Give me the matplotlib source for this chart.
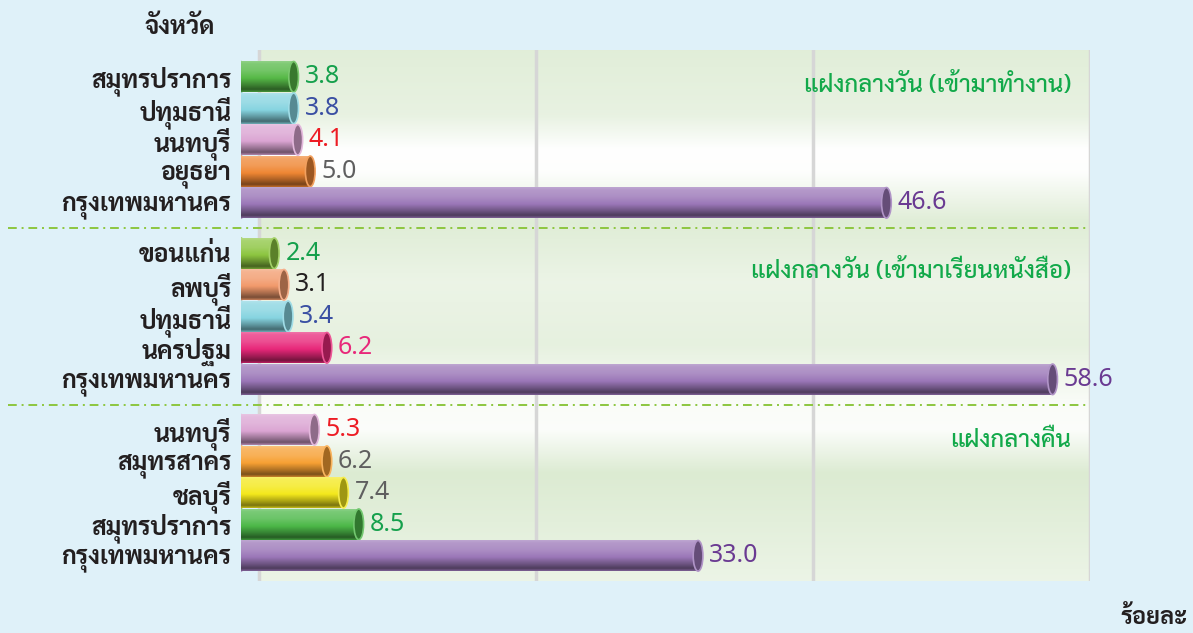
import numpy as np
import matplotlib
matplotlib.use("Agg")
import matplotlib.pyplot as plt
from matplotlib.colors import to_rgb, LinearSegmentedColormap
from matplotlib.patches import Ellipse

# ---- data ----
group_titles = ["แฝงกลางวัน (เข้ามาทำงาน)",
                "แฝงกลางวัน (เข้ามาเรียนหนังสือ)",
                "แฝงกลางคืน"]

work_provinces = ["สมุทรปราการ", "ปทุมธานี", "นนทบุรี", "อยุธยา", "กรุงเทพมหานคร"]
work_values = [3.8, 3.8, 4.1, 5.0, 46.6]

study_provinces = ["ขอนแก่น", "ลพบุรี", "ปทุมธานี", "นครปฐม", "กรุงเทพมหานคร"]
study_values = [2.4, 3.1, 3.4, 6.2, 58.6]

night_provinces = ["นนทบุรี", "สมุทรสาคร", "ชลบุรี", "สมุทรปราการ", "กรุงเทพมหานคร"]
night_values = [5.3, 6.2, 7.4, 8.5, 33.0]

# ---- styling ----
work_colors = ["#56b947", "#86d4e0", "#dba5d3", "#ef8633", "#9b77b8"]
study_colors = ["#8cc540", "#f29a6c", "#86d4e0", "#e8287a", "#9b77b8"]
night_colors = ["#dba5d3", "#f7a033", "#f4e81c", "#4cb848", "#9b77b8"]

work_label_colors = ["#15a04c", "#3a4fa3", "#ed1c24", "#5f5f5f", "#6a3a92"]
study_label_colors = ["#15a04c", "#231f20", "#3a4fa3", "#e8287a", "#6a3a92"]
night_label_colors = ["#ed1c24", "#5f5f5f", "#5f5f5f", "#15a04c", "#6a3a92"]

provinces = [work_provinces, study_provinces, night_provinces]
values = [work_values, study_values, night_values]
bar_colors = [work_colors, study_colors, night_colors]
label_colors = [work_label_colors, study_label_colors, night_label_colors]

THAI_BOLD = ["Sarabun", "DejaVu Sans"]
THAI = ["Sarabun", "Noto Sans", "DejaVu Sans"]
NUM = ["Noto Sans", "DejaVu Sans"]

group_step = 5.6      # rows between the start of two groups
depth = 1.3           # 3-D offset of the bars to the left of the zero line
bar_h = 0.97
title_dy = [0.25, 0.55, 0.35]

fig = plt.figure(figsize=(11.93, 6.33), dpi=100, facecolor="#dff1f9")
ax = fig.add_axes([241 / 1193, 1 - 581 / 633, 849 / 1193, 531 / 633])
ax.set_facecolor("none")
ax.set_xlim(-depth, 60)
ax.set_ylim(16.0, -0.85)
for s in ax.spines.values():
    s.set_visible(False)

# panel background: soft green / white bands
stops_y = [-0.85, 1.2, 2.3, 3.0, 4.6, 6.5, 8.5, 10.4, 11.2, 12.6, 14.5, 16.0]
stops_v = [0.85, 0.65, 0.0, 0.05, 0.9, 0.55, 0.7, 0.15, 0.1, 1.0, 0.75, 0.55]
yy = np.linspace(-0.85, 16.0, 300)
grad = np.interp(yy, stops_y, stops_v)[:, None]
panel_cmap = LinearSegmentedColormap.from_list("panel", ["#ffffff", "#dcebd2"])
ax.imshow(grad, cmap=panel_cmap, vmin=0, vmax=1, aspect="auto",
          extent=[0, 60, 16.0, -0.85], origin="upper", zorder=0,
          interpolation="bilinear")

for gx in [0, 20, 40, 60]:
    ax.axvline(gx, color="#d6d6d6", lw=2.5, zorder=1)

# group separators (dash-dot, running into the label area)
for g in range(1, 3):
    ysep = g * group_step - (group_step - 4) / 2
    ax.plot([-0.275, 1.0], [ysep, ysep], transform=ax.get_yaxis_transform(),
            clip_on=False, color="#8dc63f", lw=1.4,
            linestyle=(0, (4.5, 2.5, 1, 2.5)), zorder=2)


def shade(color, t):
    c = np.array(to_rgb(color))
    prof_t = [0.0, 0.08, 0.3, 0.55, 0.78, 0.92, 1.0]
    prof_m = [0.35, 0.25, 0.18, 0.0, -0.3, -0.5, -0.2]
    m = np.interp(t, prof_t, prof_m)[:, None]
    out = np.where(m >= 0, c + (1 - c) * m, c * (1 + m))
    return out


def darker(color, f):
    return tuple(np.array(to_rgb(color)) * f)


ticks, ticklabels = [], []
cap_w = 0.7
t = np.linspace(0, 1, 64)
for g in range(3):
    for i, (name, v, col, lcol) in enumerate(zip(provinces[g], values[g],
                                                 bar_colors[g], label_colors[g])):
        y = g * group_step + i
        ticks.append(y)
        ticklabels.append(name)
        x0 = -depth
        x1 = -depth + v
        z = 3 + i * 0.1
        body = shade(col, t)[:, None, :]
        ax.add_patch(Ellipse((x0, y), cap_w, bar_h, color=shade(col, np.array([0.45]))[0],
                             zorder=z))
        ax.imshow(body, aspect="auto", extent=[x0, x1, y + bar_h / 2, y - bar_h / 2],
                  origin="upper", interpolation="bilinear", zorder=z)
        ax.add_patch(Ellipse((x1, y), cap_w, bar_h, facecolor=darker(col, 0.65),
                             edgecolor=shade(col, np.array([0.2]))[0], lw=1.2, zorder=z + 0.01))
        ax.annotate(f"{v:.1f}", xy=(x1, y), xytext=(8, 0), textcoords="offset points",
                    ha="left", va="center", fontsize=18, color=lcol,
                    family=NUM, zorder=6)
    ax.text(0.9776, g * group_step + title_dy[g], group_titles[g],
            transform=ax.get_yaxis_transform(), ha="right", va="center",
            fontsize=17.3, fontweight="medium", color="#12a94a", family=THAI, zorder=6)

ax.set_xlim(-depth, 60)
ax.set_ylim(16.0, -0.85)
ax.set_xticks([])
ax.set_yticks(ticks)
ax.set_yticklabels(ticklabels, family=THAI_BOLD, fontweight="bold",
                   fontsize=17.8, color="#231f20")
ax.tick_params(axis="y", length=0, pad=7)

fig.text(180 / 1193, 1 - 28 / 633, "จังหวัด", ha="center", va="center",
         fontsize=17.8, fontweight="bold", family=THAI_BOLD, color="#231f20")
fig.text(1187 / 1193, 1 - 618 / 633, "ร้อยละ", ha="right", va="center",
         fontsize=17, fontweight="bold", family=THAI_BOLD, color="#231f20")

fig.savefig("out.png", dpi=100, facecolor=fig.get_facecolor())
